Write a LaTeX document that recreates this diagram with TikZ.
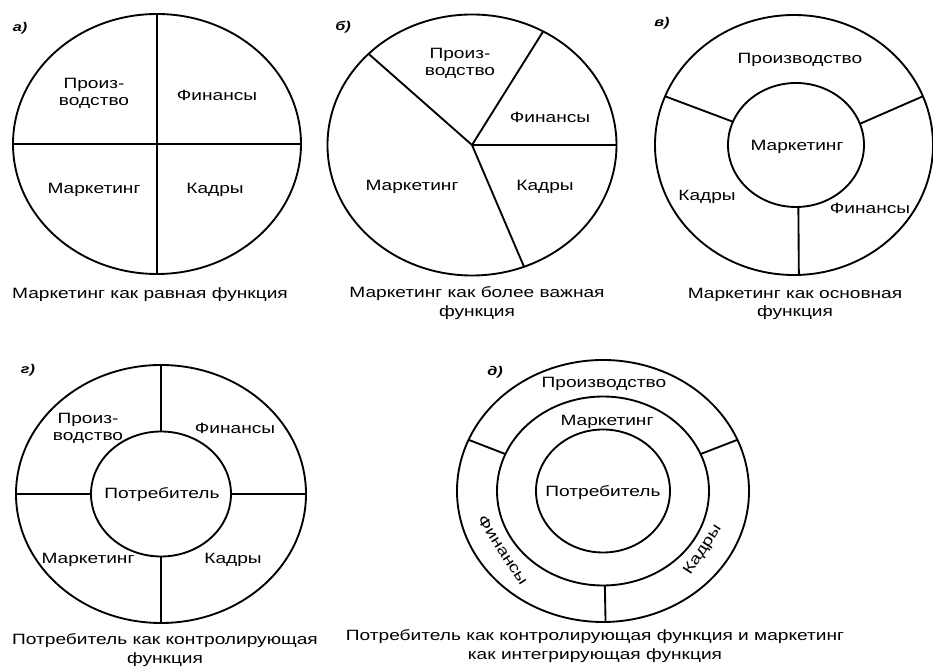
\documentclass[tikz,border=0pt]{standalone}
\usepackage{fontspec}
\setmainfont{Liberation Sans}[FakeStretch=1.28]
\usetikzlibrary{calc}
\tikzset{
  sectortext/.style={font=\fontsize{11.2}{12.8}\selectfont,align=center,inner sep=0pt},
  captext/.style={font=\fontsize{11.2}{14}\selectfont,align=center,inner sep=0pt},
  tagtext/.style={font=\fontsize{9.5}{10}\selectfont\bfseries\itshape,inner sep=0pt},
}

\begin{document}
\begin{tikzpicture}[
x=0.75pt,y=0.75pt,
line width=1.4pt
]
\useasboundingbox (0,0) rectangle (933,668);

% a
\coordinate (ca) at (157,524);
\draw (ca) ellipse [x radius=144, y radius=130];
\foreach \a in {0,90,180,270}
  \draw (ca) -- ($(ca)+(\a:144 and 130)$);
\node[tagtext] (atag) at (20,640) {а)};
\node[sectortext] (aprod) at (94,575) {Произ-\\водство};
\node[sectortext] (afin) at (217,573) {Финансы};
\node[sectortext] (amark) at (94,478) {Маркетинг};
\node[sectortext] (akadr) at (215,478) {Кадры};
\node[captext] (acap) at (150,373) {Маркетинг как равная функция};

% b
\coordinate (cb) at (472,523);
\draw (cb) ellipse [x radius=144.5, y radius=130.5];
\foreach \a in {0,60.5,135.7,-68.9}
  \draw (cb) -- ($(cb)+(\a:144.5 and 130.5)$);
\node[tagtext] (btag) at (343,641) {б)};
\node[sectortext] (bprod) at (460,605) {Произ-\\водство};
\node[sectortext] (bfin) at (550,551) {Финансы};
\node[sectortext] (bmark) at (412,481) {Маркетинг};
\node[sectortext] (bkadr) at (545,481) {Кадры};
\node[captext] (bcap) at (477,365) {Маркетинг как более важная\\функция};

% v
\coordinate (cc) at (794,523);
\coordinate (cci) at (796,523);
\draw (cc) ellipse [x radius=139, y radius=130];
\draw (cci) ellipse [x radius=68, y radius=62];
\draw ($(cci)+(158:68 and 62)$) -- ($(cc)+(158:139 and 130)$);
\draw ($(cci)+(20:68 and 62)$) -- ($(cc)+(22:139 and 130)$);
\draw ($(cci)+(-88:68 and 62)$) -- ($(cc)+(-88:139 and 130)$);
\node[tagtext] (ctag) at (662,645) {в)};
\node[sectortext] (cprod) at (800,608) {Производство};
\node[sectortext] (cmark) at (797,521) {Маркетинг};
\node[sectortext] (ckadr) at (707,471) {Кадры};
\node[sectortext] (cfin) at (870,460) {Финансы};
\node[captext] (ccap) at (795,364) {Маркетинг как основная\\функция};

% g
\coordinate (cd) at (161,174);
\draw (cd) ellipse [x radius=145, y radius=129];
\draw (cd) ellipse [x radius=70, y radius=62.5];
\foreach \a in {0,90,180,270}
  \draw ($(cd)+(\a:70 and 62.5)$) -- ($(cd)+(\a:145 and 129)$);
\node[tagtext] (dtag) at (28,298) {г)};
\node[sectortext] (dprod) at (88,240) {Произ-\\водство};
\node[sectortext] (dfin) at (235,240) {Финансы};
\node[sectortext] (dcons) at (162,173) {Потребитель};
\node[sectortext] (dmark) at (88,108) {Маркетинг};
\node[sectortext] (dkadr) at (233,108) {Кадры};
\node[captext] (dcap) at (165,18) {Потребитель как контролирующая\\функция};

% d
\coordinate (ce) at (603,177);
\draw (ce) ellipse [x radius=146, y radius=131];
\draw (ce) ellipse [x radius=106, y radius=94.5];
\draw (ce) ellipse [x radius=67, y radius=61.5];
\foreach \a in {157,23,-89}
  \draw ($(ce)+(\a:106 and 94.5)$) -- ($(ce)+(\a:146 and 131)$);
\node[tagtext] (etag) at (495,296) {д)};
\node[sectortext] (eprod) at (604,284) {Производство};
\node[sectortext] (emark) at (607,246) {Маркетинг};
\node[sectortext] (econs) at (603,175) {Потребитель};
\node[sectortext,rotate=-57] (efin) at (503,118) {Финансы};
\node[sectortext,rotate=57] (ekadr) at (703,118) {Кадры};
\node[captext] (ecap) at (595,22) {Потребитель как контролирующая функция и маркетинг\\как интегрирующая функция};
\end{tikzpicture}
\end{document}
